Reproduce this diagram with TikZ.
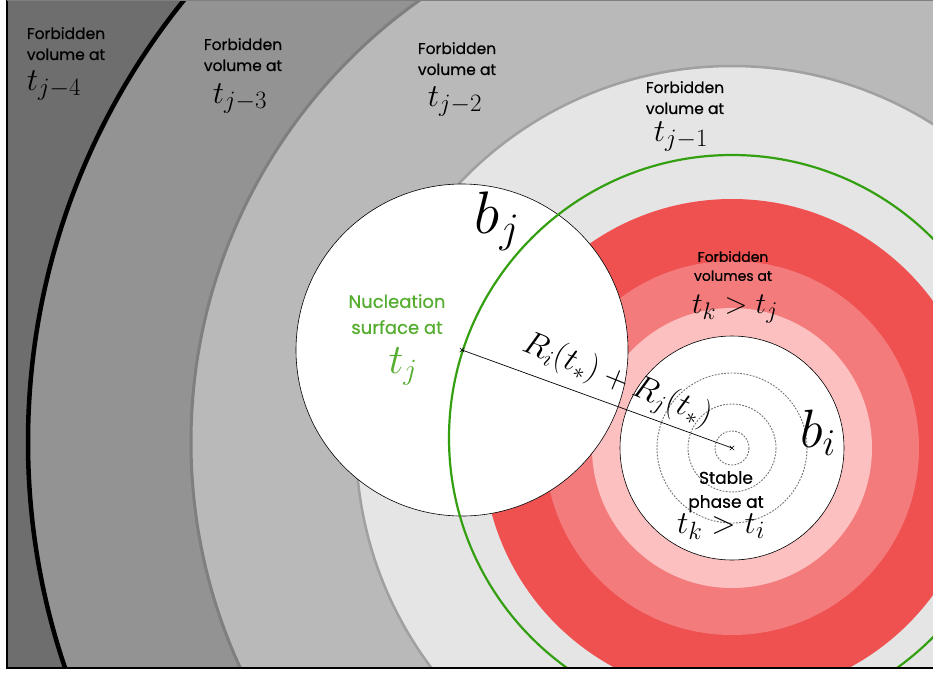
\documentclass[tikz,border=0pt]{standalone}
\usepackage{fix-cm}
\usepackage[no-math]{fontspec}
\newfontfamily\lblfont{Poppins}[FakeBold=0.6]
\DeclareMathSizes{32}{32}{25}{18}
\DeclareMathSizes{30}{30}{24}{17}
\usetikzlibrary{positioning,shapes.misc}
\definecolor{cGreyA}{HTML}{6E6E6E}
\definecolor{cGreyB}{HTML}{939393}
\definecolor{cGreyC}{HTML}{B9B9B9}
\definecolor{cGreyD}{HTML}{E5E5E5}
\definecolor{cGreyL}{HTML}{7F7F7F}
\definecolor{cGreyM}{HTML}{A0A0A0}
\definecolor{cRedA}{HTML}{EF5050}
\definecolor{cRedB}{HTML}{F37B7B}
\definecolor{cRedC}{HTML}{FDC0C0}
\definecolor{cGreen}{HTML}{34A011}
\definecolor{cGreenT}{HTML}{55AD30}

\begin{document}
\begin{tikzpicture}[x=1pt,y=-1pt,
  lbl/.style={font=\lblfont\fontsize{15.5}{21}\selectfont,align=center,
              inner sep=0pt,anchor=north},
  tlbl/.style={font=\fontsize{32}{32}\selectfont,inner sep=0pt,anchor=base},
  bubble/.style={draw=black,line width=0.6pt},
  shell/.style={black!55,line width=0.9pt,dash pattern=on 1.8pt off 1.4pt},
  xmark/.style={cross out,draw=black,line width=0.5pt,minimum size=4pt,
                inner sep=0pt}]
\useasboundingbox (0,0) rectangle (933,675);

\coordinate (gc) at (732,442);
\coordinate (bic) at (732,448);
\coordinate (bjc) at (462,350);

\begin{scope}
\clip (7,0) rectangle (933,668);
% grey shells of earlier times
\fill[cGreyA] (7,0) rectangle (933,668);
\filldraw[fill=cGreyB,draw=black,line width=4.5pt] (gc) circle[radius=704];
\filldraw[fill=cGreyC,draw=cGreyL,line width=3pt] (gc) circle[radius=541];
\filldraw[fill=cGreyD,draw=cGreyM,line width=2.5pt] (gc) circle[radius=376];
% red shells of later times
\fill[cRedA] (bic) circle[radius=249];
\fill[cRedB] (bic) circle[radius=187];
\fill[cRedC] (bic) circle[radius=140];
% the two bubbles
\fill[white] (bic) circle[radius=112];
\foreach \r in {17,44,75}
  \draw[shell] (bic) circle[radius=\r];
\fill[white] (bjc) circle[radius=166];
\draw[bubble] (bic) circle[radius=112];
\draw[bubble] (bjc) circle[radius=166];
% nucleation surface
\draw[cGreen,line width=2.2pt] (732,438) circle[radius=283];
\end{scope}

% frame
\draw[line width=1.5pt] (7,0) -- (7,668) -- (933,668);
\draw[cGreyL,line width=1.2pt] (7,0.6) -- (933,0.6);

\node[xmark] (bjx) at (bjc) {};
\node[xmark] (bix) at (bic) {};
\draw[line width=0.7pt] (bjx.center) -- (bix.center);
\node[rotate=-22,font=\fontsize{33}{33}\selectfont,inner sep=0pt] (rsum)
  at (617,381) {$R_i(t_*)+R_j(t_*)$};

\node[lbl] (fv4) at (66,27) {Forbidden\\volume at};
\node[tlbl] (t4) at (54,90) {$t_{j-4}$};
\node[lbl] (fv3) at (243,38) {Forbidden\\volume at};
\node[tlbl] (t3) at (240,103) {$t_{j-3}$};
\node[lbl] (fv2) at (457,42) {Forbidden\\volume at};
\node[tlbl] (t2) at (455,106) {$t_{j-2}$};
\node[lbl] (fv1) at (685,81) {Forbidden\\volume at};
\node[tlbl] (t1) at (681,141) {$t_{j-1}$};

\node[lbl,font=\lblfont\fontsize{14}{19}\selectfont] (fvk) at (733,251)
  {Forbidden\\volumes at};
\node[tlbl,font=\fontsize{30}{30}\selectfont] (tk) at (735,313) {$t_k>t_j$};

\node[lbl,text=cGreenT,font=\lblfont\fontsize{18}{26}\selectfont] (nuc)
  at (397,294) {Nucleation\\surface at};
\node[tlbl,text=cGreenT,font=\fontsize{42}{42}\selectfont] (tj) at (403,373)
  {$t_j$};

\node[lbl,font=\lblfont\fontsize{17}{24}\selectfont] (stab) at (726,471)
  {Stable\\phase at};
\node[tlbl] (ti) at (721,533) {$t_k>t_i$};

\node[tlbl,font=\fontsize{60}{60}\selectfont] (bj) at (497,233) {$b_j$};
\node[tlbl,font=\fontsize{54}{54}\selectfont] (bi) at (818,447) {$b_i$};
\end{tikzpicture}
\end{document}
